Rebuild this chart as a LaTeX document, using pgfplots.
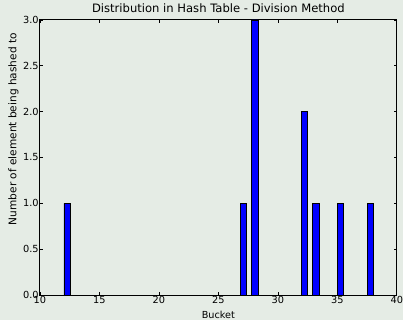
\documentclass[border=0pt]{standalone}
\usepackage{pgfplots}
\pgfplotsset{compat=1.18}
\usepackage{fontspec}
\setmainfont{DejaVu Sans}
\definecolor{bgc}{RGB}{229,236,229}
\begin{document}
\begin{tikzpicture}
\fill[bgc] (-40pt,-25.3pt) rectangle (364pt,295.7pt);
\begin{axis}[
  at={(0,0)}, anchor=south west,
  scale only axis, width=357.7pt, height=275.7pt,
  xmin=10, xmax=40, ymin=0, ymax=3,
  axis background/.style={fill=bgc},
  axis line style={black, line width=0.9pt},
  xtick={10,15,...,40}, ytick={0,0.5,...,3},
  tick align=inside, xtick pos=both, ytick pos=both,
  major tick length=3pt,
  tick style={black, line width=0.6pt},
  /pgf/number format/assume math mode=true,
  yticklabel style={/pgf/number format/fixed, /pgf/number format/fixed zerofill, /pgf/number format/precision=1, font=\fontsize{9.8}{11}\selectfont, inner sep=1pt},
  xticklabel style={font=\fontsize{9.8}{11}\selectfont, inner sep=1pt},
  title={Distribution in Hash Table - Division Method},
  title style={font=\fontsize{11.6}{13}\selectfont, at={(axis description cs:0.5,1)}, anchor=south, yshift=-0.5pt, inner sep=2pt},
  xlabel={Bucket},
  xlabel style={font=\fontsize{9.7}{11}\selectfont, at={(axis description cs:0.5,-0.0856)}, anchor=base},
  ylabel={Number of element being hashed to},
  ylabel style={font=\fontsize{10.6}{12}\selectfont, at={(axis description cs:-0.074,0.603)}, anchor=center},
]
\addplot[ybar, bar width=0.53, bar shift=0, fill={rgb,255:red,0;green,0;blue,255}, draw=black, line width=0.8pt]
coordinates {(12.29,1) (27.09,1) (28.08,3) (32.23,2) (33.2,1) (35.27,1) (37.79,1)};
\end{axis}
\end{tikzpicture}
\end{document}
